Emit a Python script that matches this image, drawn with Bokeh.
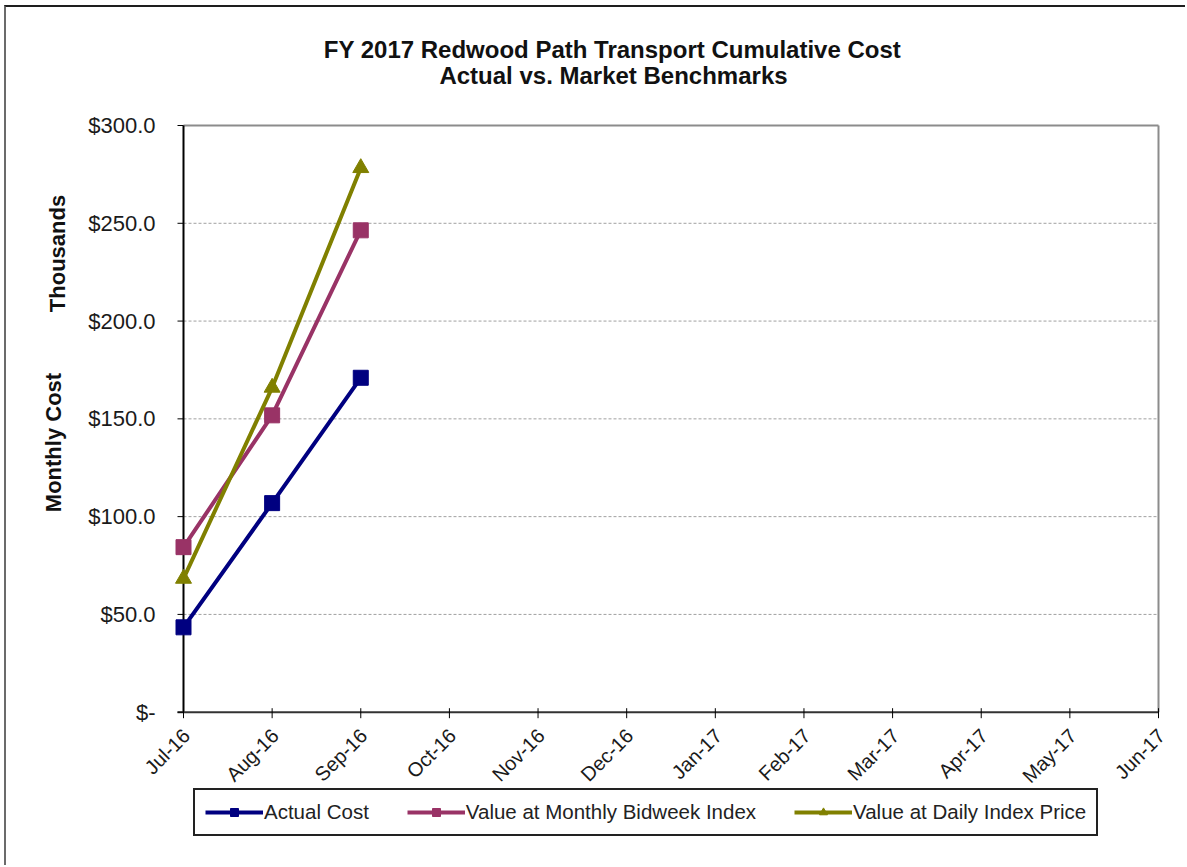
import math
from bokeh.plotting import figure
from bokeh.models import Range1d, Legend, LegendItem
from bokeh.core.properties import value
from bokeh.embed import file_html
from bokeh.resources import INLINE

# ---- data ----
months = ["Jul-16", "Aug-16", "Sep-16", "Oct-16", "Nov-16", "Dec-16",
          "Jan-17", "Feb-17", "Mar-17", "Apr-17", "May-17", "Jun-17"]
actual_cost = [43.4, 106.9, 171.0]
bidweek_value = [84.4, 151.8, 246.4]
daily_value = [68.3, 166.0, 278.3]
y_ticks = [0, 50, 100, 150, 200, 250, 300]
y_tick_labels = ["$-", "$50.0", "$100.0", "$150.0", "$200.0", "$250.0", "$300.0"]

series_names = ["Actual Cost", "Value at Monthly Bidweek Index", "Value at Daily Index Price"]
series_colors = ["#000080", "#993366", "#808000"]
series_markers = ["square", "square", "triangle"]
title_lines = ["FY 2017 Redwood Path Transport Cumulative Cost", "Actual vs. Market Benchmarks"]
y_title_parts = ["Thousands", "Monthly Cost"]

FONT = "Liberation Sans"
TXT = "#111111"

# ---- layout constants (page pixels) ----
n = len(months)
CANVAS_X, CANVAS_Y = 6, 7          # canvas origin on the page (after frame border)
W, H = 1187 - CANVAS_X, 867 - CANVAS_Y
PX_X0, PX_PER_X = 183.0, 975.0 / (n - 1)     # Jul-16 position, px per month
PX_Y0, PX_PER_Y = 711.7, 586.7 / 300.0       # y = 0 position, px per unit

def dx(px):
    return (px - PX_X0) / PX_PER_X

def dy(py):
    return (PX_Y0 - py) / PX_PER_Y

p = figure(width=W, height=H, output_backend="svg", toolbar_location=None,
           x_range=Range1d(dx(CANVAS_X), dx(1187)), y_range=Range1d(dy(867), dy(CANVAS_Y)),
           x_axis_location=None, y_axis_location=None,
           min_border=0, min_border_left=0, min_border_right=0,
           min_border_top=0, min_border_bottom=0, title=None)
p.styles = {"margin-left": "4px", "margin-top": "5px",
            "border-left": "2px solid #6b6b6b", "border-top": "2px solid #1e1e1e"}
p.background_fill_color = "white"
p.border_fill_color = "white"
p.outline_line_color = None
p.grid.visible = False

x_idx = list(range(n))
y_min, y_max = y_ticks[0], y_ticks[-1]
x_last = x_idx[-1]

# horizontal dashed gridlines
grid_vals = y_ticks[1:-1]
p.segment(x0=[0] * len(grid_vals), x1=[x_last] * len(grid_vals), y0=grid_vals, y1=grid_vals,
          line_color="#a0a0a0", line_width=1, line_dash="3 2")

# plot-area border (top, right) and axes lines
p.segment(x0=[0, x_last], x1=[x_last, x_last], y0=[y_max, y_min], y1=[y_max, y_max],
          line_color="#8c8c8c", line_width=2)
p.segment(x0=[0], x1=[0], y0=[y_min], y1=[y_max], line_color="black", line_width=2)
p.segment(x0=[dx(PX_X0 - 6)], x1=[x_last], y0=[y_min], y1=[y_min],
          line_color="#333333", line_width=2)

# y ticks + labels
p.segment(x0=[dx(PX_X0 - 6)] * len(y_ticks), x1=[0] * len(y_ticks), y0=y_ticks, y1=y_ticks,
          line_color="black", line_width=1)
p.text(x=[0] * len(y_ticks), y=y_ticks, text=y_tick_labels, x_offset=-28,
       text_align="right", text_baseline="middle", text_font=value(FONT),
       text_font_size=value("22px"), text_color="#1a1a1a")

# x ticks + labels
p.segment(x0=x_idx, x1=x_idx, y0=[y_min - 6 / PX_PER_Y] * n, y1=[y_min + 4 / PX_PER_Y] * n,
          line_color="black", line_width=1)
p.text(x=x_idx, y=[y_min] * n, text=months, angle=math.pi / 4, x_offset=3, y_offset=20,
       text_align="right", text_baseline="middle", text_font=value(FONT),
       text_font_size=value("20px"), text_color="#1a1a1a")

# series
items = []
for name, vals, col, mk in zip(series_names, [actual_cost, bidweek_value, daily_value],
                               series_colors, series_markers):
    xs = x_idx[:len(vals)]
    ln = p.line(xs, vals, line_color=col, line_width=4)
    sc = p.scatter(xs, vals, marker=mk, size=(16 if mk == "triangle" else 15),
                   fill_color=col, line_color=col)
    items.append(LegendItem(label=name, renderers=[ln, sc]))

legend = Legend(items=items, orientation="horizontal", location=(193 - CANVAS_X, 867 - 836),
                glyph_width=58, glyph_height=20, label_standoff=1, spacing=38,
                padding=10, margin=0, border_line_color="#222222", border_line_alpha=1.0,
                border_line_width=2,
                label_text_font=FONT, label_text_font_size="20.5px",
                label_text_color="#222222", background_fill_color="white",
                background_fill_alpha=1)
p.add_layout(legend)

# chart titles
p.text(x=[dx(612), dx(613)], y=[dy(49), dy(75)], text=title_lines,
       text_align="center", text_baseline="middle", text_font=value(FONT),
       text_font_style="bold", text_font_size=value("24px"), text_color=TXT)

# y-axis titles (rotated)
p.text(x=[dx(57), dx(53)], y=[dy(253), dy(442)], text=y_title_parts, angle=math.pi / 2,
       text_align="center", text_baseline="middle", text_font=value(FONT),
       text_font_style="bold", text_font_size=value("22px"), text_color=TXT)

open("out.html", "w").write(file_html(p, INLINE))
